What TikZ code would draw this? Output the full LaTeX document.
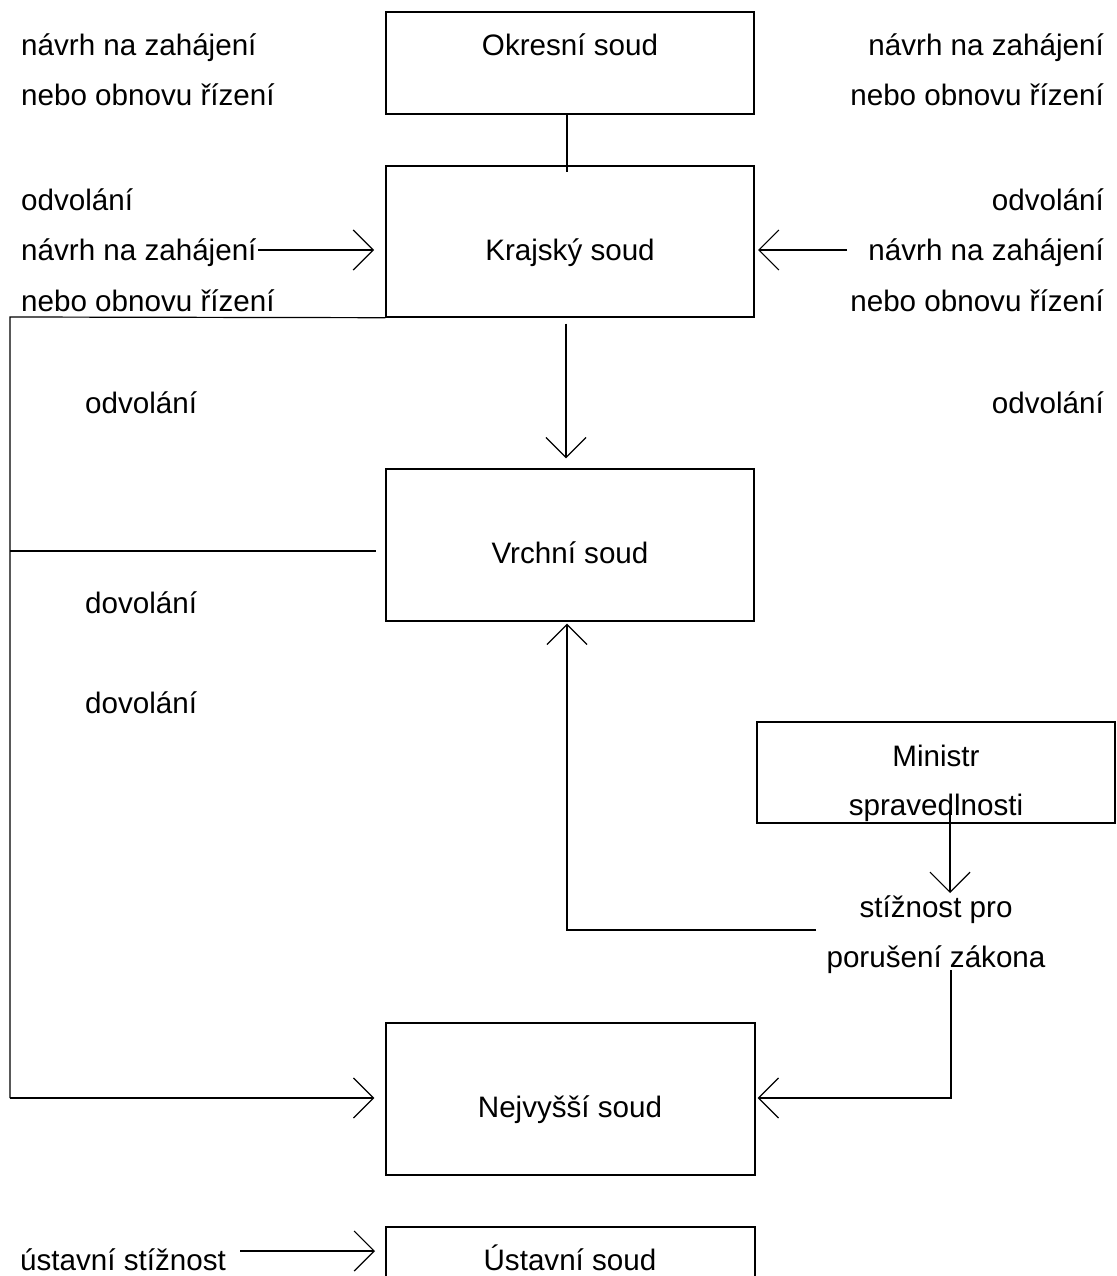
\documentclass[tikz,border=0pt]{standalone}
\usepackage{fontspec}
\setmainfont{Liberation Sans}
\usetikzlibrary{arrows.meta}
\begin{document}
\begin{tikzpicture}[x=1pt,y=-1pt,
  txt/.style={inner sep=0pt,font=\fontsize{29.6}{35}\selectfont},
  lt/.style={txt,anchor=base west},
  rt/.style={txt,anchor=base east},
  ct/.style={txt,anchor=base},
  court/.style={draw,line width=1.4pt,inner sep=0pt},
  conn/.style={line width=1.2pt},
  arr/.style={conn,-{Straight Barb[length=20pt,width=40pt,line width=1.2pt]}}]
\useasboundingbox (0,0) rectangle (1116,1276);
% boxes
\node[court,minimum width=368pt,minimum height=102pt] (okr) at (570,63) {};
\node[court,minimum width=368pt,minimum height=151pt] (kraj) at (570,241.5) {};
\node[court,minimum width=368pt,minimum height=152pt] (vrch) at (570,545) {};
\node[court,minimum width=358pt,minimum height=101pt] (min) at (936,772.5) {};
\node[court,minimum width=369pt,minimum height=152pt] (nejv) at (570.5,1099) {};
\node[court,minimum width=369pt,minimum height=152pt] (ust) at (570.5,1303) {};
% box texts
\node[ct] (tokr) at (570,56) {Okresní soud};
\node[ct] (tkraj) at (570,260) {Krajský soud};
\node[ct] (tvrch) at (570,563) {Vrchní soud};
\node[ct] (tmin1) at (936,766) {Ministr};
\node[ct] (tmin2) at (936,815) {spravedlnosti};
\node[ct] (tnejv) at (570,1117) {Nejvyšší soud};
\node[ct] (tust) at (570,1270) {Ústavní soud};
% left labels
\node[lt] (l1) at (21,56) {návrh na zahájení};
\node[lt] (l2) at (21,106) {nebo obnovu řízení};
\node[lt] (l3) at (21,210) {odvolání};
\node[lt] (l4) at (21,260) {návrh na zahájení};
\node[lt] (l5) at (21,311) {nebo obnovu řízení};
\node[lt] (l6) at (85,413) {odvolání};
\node[lt] (l7) at (85,613) {dovolání};
\node[lt] (l8) at (85,713) {dovolání};
\node[lt] (l9) at (20,1270) {ústavní stížnost};
% right labels
\node[rt] (r1) at (1104,56) {návrh na zahájení};
\node[rt] (r2) at (1104,106) {nebo obnovu řízení};
\node[rt] (r3) at (1104,210) {odvolání};
\node[rt] (r4) at (1104,260) {návrh na zahájení};
\node[rt] (r5) at (1104,311) {nebo obnovu řízení};
\node[rt] (r6) at (1104,413) {odvolání};
% stížnost label
\node[ct] (st1) at (936,917) {stížnost pro};
\node[ct] (st2) at (936,967) {porušení zákona};
% coordinates
\coordinate (fl) at (10,317);
\coordinate (fb) at (10,1098);
\coordinate (vl) at (10,551);
\coordinate (ve) at (376,551);
\coordinate (sj) at (816,930);
\coordinate (sc) at (567,930);
\coordinate (sr) at (951,1098);
% connectors
\draw[conn] ([xshift=-3pt]okr.south) -- ([xshift=-3pt,yshift=-7pt]kraj.north);
\draw[arr] (258,250) -- (374,250);
\draw[arr] (847,250) -- (758,250);
\draw[arr] ([xshift=-4pt,yshift=-6pt]kraj.south) -- ([xshift=-4pt,yshift=10pt]vrch.north);
\draw[conn] (kraj.south west) -- (fl) -- (fb);
\draw[arr] (fb) -- ([xshift=-11pt]nejv.west |- fb);
\draw[conn] (vl) -- (ve);
\draw[arr] (sj) -- (sc) -- ([xshift=-3pt,yshift=-2pt]vrch.south);
\draw[arr] (950,812) -- (950,893);
\draw[arr] (951,970) -- (sr) -- ([xshift=2pt]nejv.east |- sr);
\draw[arr] (240,1251) -- (375,1251);
\end{tikzpicture}
\end{document}
